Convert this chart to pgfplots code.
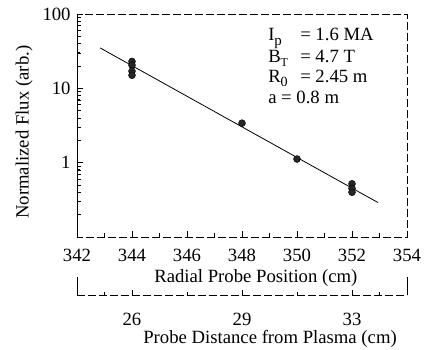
\documentclass[border=0pt]{standalone}
\usepackage{pgfplots}
\pgfplotsset{compat=1.18}
\usepackage{fontspec}
\setmainfont{Liberation Serif}
\begin{document}
\fontsize{18.7}{20.5}\selectfont
\begin{tikzpicture}
\path[use as bounding box] (-77pt,-112pt) rectangle (352pt,237pt);
\begin{axis}[name=main, at={(0,0)}, anchor=south west, scale only axis,
  width=330pt, height=223pt,
  xmin=342, xmax=354, ymode=log, ymin=0.1, ymax=100,
  xtick={342,344,346,348,350,352,354}, xticklabels={342,344,346,348,350,352,354},
  ytick={0.1,1,10,100}, yticklabels={,1,10,100},
  tick pos=left, tick align=inside,
  axis line style={line width=0.7pt, dash pattern=on 8pt off 3pt},
  tick style={thick, black, solid},
  xticklabel style={yshift=-6pt},
  xlabel={Radial Probe Position (cm)},
  xlabel style={at={(rel axis cs:0.542,-0.182)}, anchor=center},
  ylabel={Normalized Flux (arb.)},
  ylabel style={at={(rel axis cs:-0.16,0.47)}, anchor=center},
  clip=false]
\addplot[only marks, mark=*, mark size=3.5pt, black, mark options={fill=black!85}] coordinates {
 (344,23) (344,20.5) (344,17) (344,15) (348,3.4) (350,1.12)
 (352,0.52) (352,0.45) (352,0.4)};
\addplot[black, line width=0.8pt] coordinates {(342.84,35) (352.95,0.29)};
\draw[line width=0.7pt] (rel axis cs:0,0) -- (rel axis cs:0,1);
\pgfplotsinvokeforeach{344,346,348,350,352}{\draw[line width=0.7pt] (axis cs:#1,0.1) -- ++(0pt,6pt);}
\pgfplotsinvokeforeach{343,345,347,349,351,353}{\draw[line width=0.7pt] (axis cs:#1,0.1) -- ++(0pt,4pt);}
\pgfplotsinvokeforeach{1,10,100}{\draw[line width=0.7pt] (axis cs:342,#1) -- ++(6pt,0pt);}
\pgfplotsinvokeforeach{0.2,0.3,0.4,0.5,0.6,0.7,0.8,0.9,2,3,4,5,6,7,8,9,20,30,40,50,60,70,80,90}{\draw[line width=0.7pt] (axis cs:342,#1) -- ++(4pt,0pt);}
\node[anchor=north west, inner sep=0pt, align=left] at (rel axis cs:0.579,0.937)
 {\makebox[32pt][l]{I\raisebox{-5pt}{\fontsize{15}{15}\selectfont p}}= 1.6 MA\\
  \makebox[32pt][l]{B\raisebox{-4pt}{\fontsize{12}{12}\selectfont T}}= 4.7 T\\
  \makebox[32pt][l]{R\raisebox{-4pt}{\fontsize{14}{14}\selectfont 0}}= 2.45 m\\
  a = 0.8 m};
\end{axis}
\begin{axis}[at={(0,-58pt)}, anchor=south west, scale only axis,
  width=330pt, height=18pt, xmin=342, xmax=354, ymin=0, ymax=1,
  separate axis lines, axis x line*=bottom, axis y line*=left,
  xtick={344,348,352}, xticklabels={26,29,33}, ytick=\empty,
  x axis line style={line width=0.7pt, dash pattern=on 8pt off 3pt},
  y axis line style={line width=0.7pt},
  tick style={thick, black, solid}, xtick align=inside,
  xticklabel style={yshift=-12pt},
  xlabel={Probe Distance from Plasma (cm)},
  xlabel style={at={(rel axis cs:0.585,-2.45)}, anchor=center},
  clip=false]
\draw[line width=0.7pt] (rel axis cs:1,0) -- (rel axis cs:1,1);
\pgfplotsinvokeforeach{344,348,352}{\draw[line width=0.7pt] (axis cs:#1,0) -- ++(0pt,5pt);}
\pgfplotsinvokeforeach{343,346,350,353}{\draw[line width=0.7pt] (axis cs:#1,0) -- ++(0pt,3.5pt);}
\end{axis}
\end{tikzpicture}
\end{document}
